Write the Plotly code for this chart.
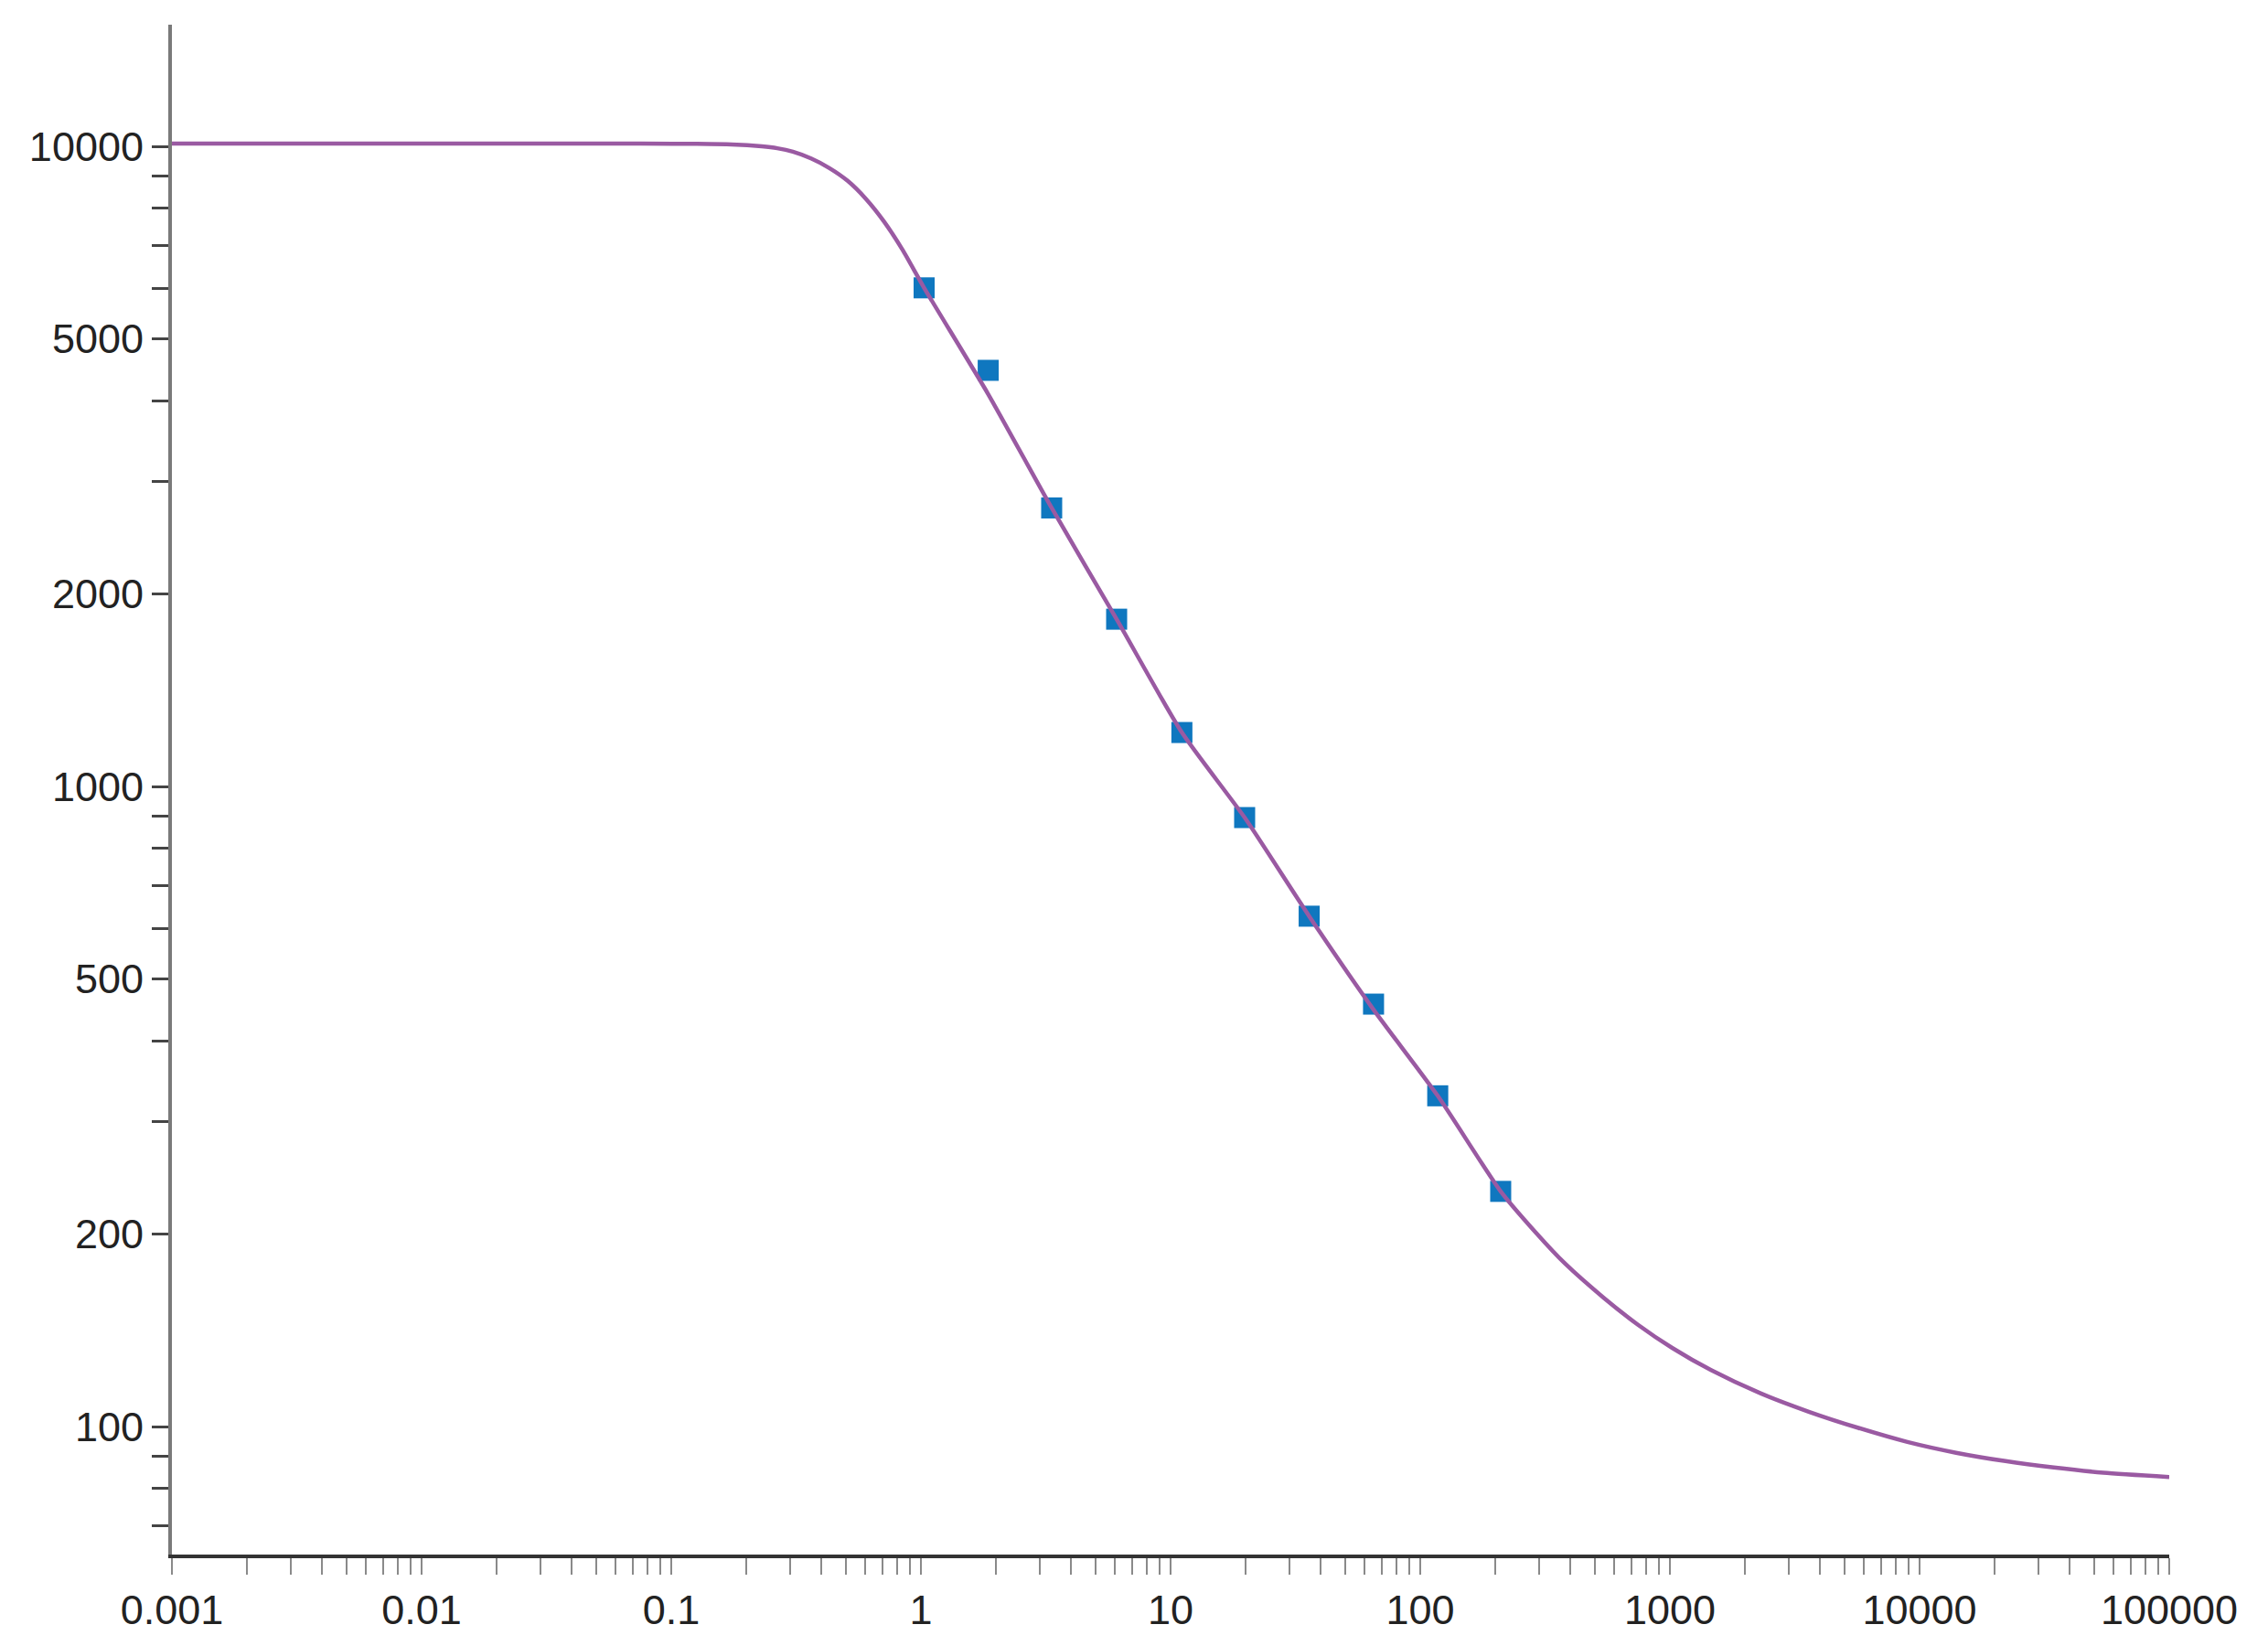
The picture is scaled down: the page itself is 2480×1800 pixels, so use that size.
import plotly.graph_objects as go

# Measured data points (concentration, signal)
point_x = [1.03, 1.86, 3.34, 6.08, 11.1, 19.8, 35.9, 65.0, 117.5, 210.0]
point_y = [6010, 4467, 2723, 1825, 1214, 894, 627, 457, 328.6, 233]

# Fitted curve, sampled by reading positions off the reference
curve_x = [0.001, 0.003, 0.01, 0.03, 0.075, 0.1746, 0.2307, 0.266, 0.307,
           0.363, 0.430, 0.509, 0.602, 0.713, 0.845, 1.03, 1.86, 3.34,
           6.08, 11.1, 19.8, 35.9, 65.0, 117.5, 210.0, 290, 379, 543, 745,
           1021, 1462, 2305, 3620, 5690, 8940, 14010, 22100, 34500,
           54500, 100000]
curve_y = [10100, 10100, 10100, 10100, 10100, 10070, 10000, 9931, 9806,
           9572, 9247, 8831, 8279, 7621, 6887, 6010, 4100, 2723,
           1825, 1214, 894, 627, 448, 328.6, 233, 201, 179.9, 158.9, 144.2,
           132.7, 122.5, 112.7, 105.4, 99.5, 94.6, 91.0, 88.3, 86.3,
           84.7, 83.4]

# Axis ticks
x_major = [0.001, 0.01, 0.1, 1, 10, 100, 1000, 10000, 100000]
x_major_labels = ["0.001", "0.01", "0.1", "1", "10", "100", "1000", "10000", "100000"]
x_tickvals = []
x_ticktext = []
for i, base in enumerate(x_major):
    x_tickvals.append(base)
    x_ticktext.append(x_major_labels[i])
    if base < 100000:
        for m in range(2, 10):
            x_tickvals.append(base * m)
            x_ticktext.append("")

y_labelled = {100: "100", 200: "200", 500: "500", 1000: "1000",
              2000: "2000", 5000: "5000", 10000: "10000"}
y_minor = [70, 80, 90, 300, 400, 600, 700, 800, 900,
           3000, 4000, 6000, 7000, 8000, 9000]
y_tickvals = sorted(list(y_labelled.keys()) + y_minor)
y_ticktext = [y_labelled.get(v, "") for v in y_tickvals]

fig = go.Figure()
fig.add_trace(go.Scatter(
    x=point_x, y=point_y, mode="markers",
    marker=dict(symbol="square", size=23, color="#0f77bf",
                line=dict(width=0)),
    showlegend=False,
))
fig.add_trace(go.Scatter(
    x=curve_x, y=curve_y, mode="lines",
    line=dict(color="#9a5aa2", width=4.5, shape="spline", smoothing=0.6),
    showlegend=False,
))

font = dict(family="Liberation Sans, Arial, sans-serif", size=45, color="#222222")

fig.update_layout(
    width=2472, height=1792,
    margin=dict(l=180, r=108, t=19, b=100),
    paper_bgcolor="white", plot_bgcolor="white",
    showlegend=False,
    xaxis=dict(
        type="log", range=[-3, 5],
        showgrid=False, zeroline=False,
        showline=True, linecolor="#333333", linewidth=4,
        ticks="outside", ticklen=18, tickwidth=2, tickcolor="#8a8a8a",
        tickmode="array", tickvals=x_tickvals, ticktext=x_ticktext,
        tickfont=font,
    ),
    yaxis=dict(
        type="log", range=[1.8, 4.19],
        showgrid=False, zeroline=False,
        showline=True, linecolor="#7a7a7a", linewidth=4,
        ticks="outside", ticklen=18, tickwidth=3, tickcolor="#444444",
        tickmode="array", tickvals=y_tickvals, ticktext=y_ticktext,
        tickfont=font,
    ),
)

fig.write_html("out.html")
